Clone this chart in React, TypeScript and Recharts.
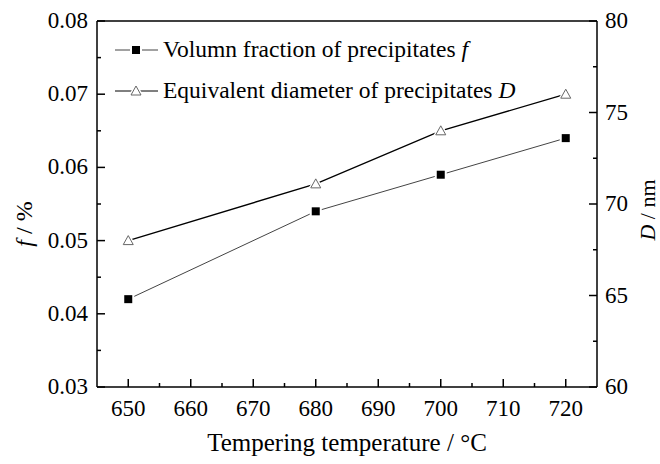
import React from "react";
import { LineChart, Line, XAxis, YAxis, Legend, Label, ReferenceLine } from "recharts";

document.body.style.margin = "0";

const temperatures = [650, 680, 700, 720];
const volumeFraction = [0.042, 0.054, 0.059, 0.064];
const diameter = [68, 71.1, 74, 76];

const xTicks = [650, 655, 660, 665, 670, 675, 680, 685, 690, 695, 700, 705, 710, 715, 720];
const xMajor = [650, 660, 670, 680, 690, 700, 710, 720];
const fTicks = [0.03, 0.035, 0.04, 0.045, 0.05, 0.055, 0.06, 0.065, 0.07, 0.075, 0.08];
const fMajor = ["0.03", "0.04", "0.05", "0.06", "0.07", "0.08"];
const dTicks = [60, 62.5, 65, 67.5, 70, 72.5, 75, 77.5, 80];
const dMajor = [60, 65, 70, 75, 80];

const data = temperatures.map((t, i) => ({ temp: t, f: volumeFraction[i], D: diameter[i] }));

const FONT = "'Liberation Serif', serif";
const TICK_FS = 23;
const tickText = { fontFamily: FONT, fontSize: TICK_FS, fill: "#000" };

const renderXTick = (props: any) => {
	const { x, y, payload } = props;
	const major = xMajor.includes(payload.value);
	return (
		<g>
			<line x1={x} x2={x} y1={y} y2={y - (major ? 8 : 4)} stroke="#000" strokeWidth={1.5} />
			{major && (
				<text x={x} y={y + 29} textAnchor="middle" style={tickText}>
					{payload.value}
				</text>
			)}
		</g>
	);
};

const renderFTick = (props: any) => {
	const { x, y, payload } = props;
	const label = payload.value.toFixed(2);
	const major = fMajor.includes(label) && Math.abs(payload.value * 100 - Math.round(payload.value * 100)) < 1e-6;
	return (
		<g>
			<line x1={x} x2={x + (major ? 8 : 4)} y1={y} y2={y} stroke="#000" strokeWidth={1.5} />
			{major && (
				<text x={x - 9} y={y + 7} textAnchor="end" style={tickText}>
					{label}
				</text>
			)}
		</g>
	);
};

const renderDTick = (props: any) => {
	const { x, y, payload } = props;
	const major = dMajor.includes(payload.value);
	return (
		<g>
			<line x1={x} x2={x - (major ? 8 : 4)} y1={y} y2={y} stroke="#000" strokeWidth={1.5} />
			{major && (
				<text x={x + 8} y={y + 7} textAnchor="start" style={tickText}>
					{payload.value}
				</text>
			)}
		</g>
	);
};

const SquareDot = (props: any) => {
	const { cx, cy } = props;
	if (cx == null || cy == null) return null;
	return (
		<g>
			<rect x={cx - 6} y={cy - 6} width={12} height={12} fill="#fff" />
			<rect x={cx - 4} y={cy - 4} width={8} height={8} fill="#000" />
		</g>
	);
};

const TriangleDot = (props: any) => {
	const { cx, cy } = props;
	if (cx == null || cy == null) return null;
	return (
		<g>
			<polygon points={`${cx},${cy - 9} ${cx - 8},${cy + 6} ${cx + 8},${cy + 6}`} fill="#fff" />
			<polygon
				points={`${cx},${cy - 5} ${cx - 5},${cy + 4} ${cx + 5},${cy + 4}`}
				fill="#fff"
				stroke="#666"
				strokeWidth={1}
			/>
		</g>
	);
};

const legendItems = [
	{ text: "Volumn fraction of precipitates ", sym: "f", dot: SquareDot, color: "#444" },
	{ text: "Equivalent diameter of precipitates ", sym: "D", dot: TriangleDot, color: "#000" },
];

const renderLegend = () => (
	<div style={{ fontFamily: FONT, fontSize: 23.5, color: "#000" }}>
		{legendItems.map((item) => (
			<div key={item.sym} style={{ display: "flex", alignItems: "center", height: 41, whiteSpace: "nowrap" }}>
				<svg width={48} height={20} style={{ marginRight: 2 }}>
					<line x1={2} x2={45} y1={10} y2={10} stroke={item.color} strokeWidth={1} />
					{item.dot({ cx: 23, cy: 10 })}
				</svg>
				<span>
					{item.text}
					<i>{item.sym}</i>
				</span>
			</div>
		))}
	</div>
);

const XTitle = (props: any) => {
	const { x, y, width } = props.viewBox;
	return (
		<text x={x + width / 2} y={y + 64} textAnchor="middle" style={{ fontFamily: FONT, fontSize: 25, fill: "#000" }}>
			Tempering temperature / °C
		</text>
	);
};

const FTitle = (props: any) => {
	const { x, y, height } = props.viewBox;
	const cx = x + 24;
	const cy = y + height / 2 + 20;
	return (
		<text
			x={cx}
			y={cy}
			transform={`rotate(-90, ${cx}, ${cy})`}
			textAnchor="middle"
			dominantBaseline="central"
			style={{ fontFamily: FONT, fontSize: 24, fill: "#000" }}
		>
			<tspan fontStyle="italic">f</tspan> / %
		</text>
	);
};

const DTitle = (props: any) => {
	const { x, y, height } = props.viewBox;
	const cx = x + 50;
	const cy = y + height / 2 + 6;
	return (
		<text
			x={cx}
			y={cy}
			transform={`rotate(-90, ${cx}, ${cy})`}
			textAnchor="middle"
			dominantBaseline="central"
			style={{ fontFamily: FONT, fontSize: 22, fill: "#000" }}
		>
			<tspan fontStyle="italic">D</tspan> / nm
		</text>
	);
};

export default function App() {
	return (
		<div style={{ width: 660, height: 464, background: "#fff", fontFamily: FONT }}>
			<LineChart width={660} height={464} data={data} margin={{ top: 21, right: 0, bottom: 0, left: 0 }}>
				<XAxis
					dataKey="temp"
					type="number"
					domain={[645, 725]}
					ticks={xTicks}
					interval={0}
					height={77}
					tickSize={0}
					tickMargin={0}
					tickLine={false}
					tick={renderXTick}
					axisLine={{ stroke: "#000", strokeWidth: 1.5 }}
					label={<Label content={XTitle} />}
				/>
				<YAxis
					yAxisId="f"
					orientation="left"
					domain={[0.03, 0.08]}
					ticks={fTicks}
					interval={0}
					width={97}
					tickSize={0}
					tickMargin={0}
					tickLine={false}
					tick={renderFTick}
					axisLine={{ stroke: "#000", strokeWidth: 1.5 }}
					label={<Label content={FTitle} />}
				/>
				<YAxis
					yAxisId="D"
					orientation="right"
					domain={[60, 80]}
					ticks={dTicks}
					interval={0}
					width={63}
					tickSize={0}
					tickMargin={0}
					tickLine={false}
					tick={renderDTick}
					axisLine={{ stroke: "#000", strokeWidth: 1.5 }}
					label={<Label content={DTitle} />}
				/>
				<ReferenceLine yAxisId="f" y={0.08} stroke="#000" strokeWidth={1.5} />
				<Legend
					layout="horizontal"
					verticalAlign="middle"
					align="center"
					content={renderLegend}
					wrapperStyle={{ top: 29, left: 113, width: "auto" }}
				/>
				<Line
					yAxisId="f"
					dataKey="f"
					type="linear"
					stroke="#444"
					strokeWidth={1}
					dot={<SquareDot />}
					activeDot={false}
					isAnimationActive={false}
				/>
				<Line
					yAxisId="D"
					dataKey="D"
					type="linear"
					stroke="#000"
					strokeWidth={1.3}
					dot={<TriangleDot />}
					activeDot={false}
					isAnimationActive={false}
				/>
			</LineChart>
		</div>
	);
}
